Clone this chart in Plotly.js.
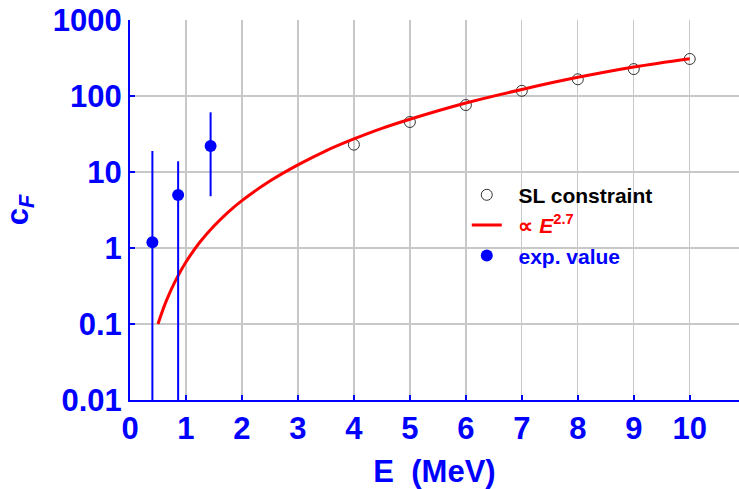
<!DOCTYPE html>
<html>
<head>
<meta charset="utf-8">
<script src="https://cdn.plot.ly/plotly-3.0.1.min.js"></script>
<style>html,body{margin:0;padding:0;background:#fff;}#chart{width:739px;height:489px;}</style>
</head>
<body>
<div id="chart"></div>
<script>
// SL constraint (open circles)
var slE = [4, 5, 6, 7, 8, 9, 10];
var slC = [22.9, 45.5, 76, 117, 166, 226, 307];

// curve proportional to E^2.7
var fitE = [0.5, 0.6, 0.7, 0.8, 0.9, 1.0, 1.25, 1.5, 1.75, 2, 2.5, 3, 3.5, 4, 4.5, 5, 6, 7, 8, 9, 10];
var fitC = [0.1, 0.163, 0.247, 0.355, 0.49, 0.655, 1.2, 1.95, 2.95, 4.2, 7.6, 12.4, 19, 27.2, 37.5, 49.5, 81, 122, 176, 241, 310];

// experimental values with error range
var expE = [0.40, 0.86, 1.44];
var expC = [1.19, 4.98, 22];
var expHigh = [18.9, 13.8, 61];
var expLow = [0.001, 0.001, 4.8];

// axis tick labels
var yTickVals = [0.01, 0.1, 1, 10, 100, 1000];
var yTickText = ['0.01', '0.1', '1', '10', '100', '1000'];

var blue = '#0000ff';
var fam = 'Liberation Sans, Arial, sans-serif';
var pad = '\u00a0\u00a0';

var plus = expC.map(function (v, i) { return expHigh[i] - v; });
var minus = expC.map(function (v, i) { return v - expLow[i]; });

var traces = [
  {
    x: slE, y: slC, type: 'scatter', mode: 'markers',
    name: '<b>' + pad + 'SL constraint</b>',
    marker: { symbol: 'circle-open', size: 11, color: '#333333', line: { width: 1, color: '#333333' } },
    legendrank: 1
  },
  {
    x: fitE, y: fitC, type: 'scatter', mode: 'lines',
    name: '<b><span style="color:#ff0000">' + pad + '\u221d <i>E</i><sup>2.7</sup></span></b>',
    line: { color: '#ff0000', width: 3, shape: 'spline' },
    legendrank: 2
  },
  {
    x: expE, y: expC, type: 'scatter', mode: 'markers',
    name: '<b><span style="color:#0000ff">' + pad + 'exp. value</span></b>',
    marker: { symbol: 'circle', size: 12, color: blue },
    error_y: { type: 'data', symmetric: false, array: plus, arrayminus: minus, color: blue, thickness: 2, width: 0 },
    legendrank: 3
  }
];

var layout = {
  width: 739, height: 489,
  margin: { l: 130, r: 0, t: 20, b: 89 },
  paper_bgcolor: '#ffffff', plot_bgcolor: '#ffffff',
  font: { family: fam, color: blue },
  showlegend: true,
  legend: {
    x: 0.553, y: 0.593, xanchor: 'left', yanchor: 'top',
    bgcolor: 'rgba(0,0,0,0)', borderwidth: 0,
    font: { family: fam, size: 21, color: '#000000' },
    tracegroupgap: 0
  },
  xaxis: {
    range: [0, 10.88], dtick: 1, tick0: 0,
    showgrid: true, gridcolor: '#c8c8c8', gridwidth: 1.3,
    zeroline: false, showline: true, linecolor: blue, linewidth: 2,
    ticks: 'inside', ticklen: 5, tickwidth: 2, tickcolor: blue,
    tickfont: { family: fam, size: 31, color: blue, weight: 'bold' },
    title: { text: '<b>E  (MeV)</b>', font: { family: fam, size: 31, color: blue }, standoff: 16 }
  },
  yaxis: {
    type: 'log', range: [-2, 3], automargin: true,
    tickmode: 'array', tickvals: yTickVals, ticktext: yTickText,
    showgrid: true, gridcolor: '#c8c8c8', gridwidth: 1.3,
    zeroline: false, showline: true, linecolor: blue, linewidth: 2,
    ticks: 'inside', ticklen: 5, tickwidth: 2, tickcolor: blue,
    tickfont: { family: fam, size: 31, color: blue, weight: 'bold' },
    title: { text: '<b>c<sub><i>F</i></sub></b>', font: { family: fam, size: 31, color: blue }, standoff: 16 }
  }
};

Plotly.newPlot('chart', traces, layout, { staticPlot: true, displayModeBar: false });
</script>
</body>
</html>
